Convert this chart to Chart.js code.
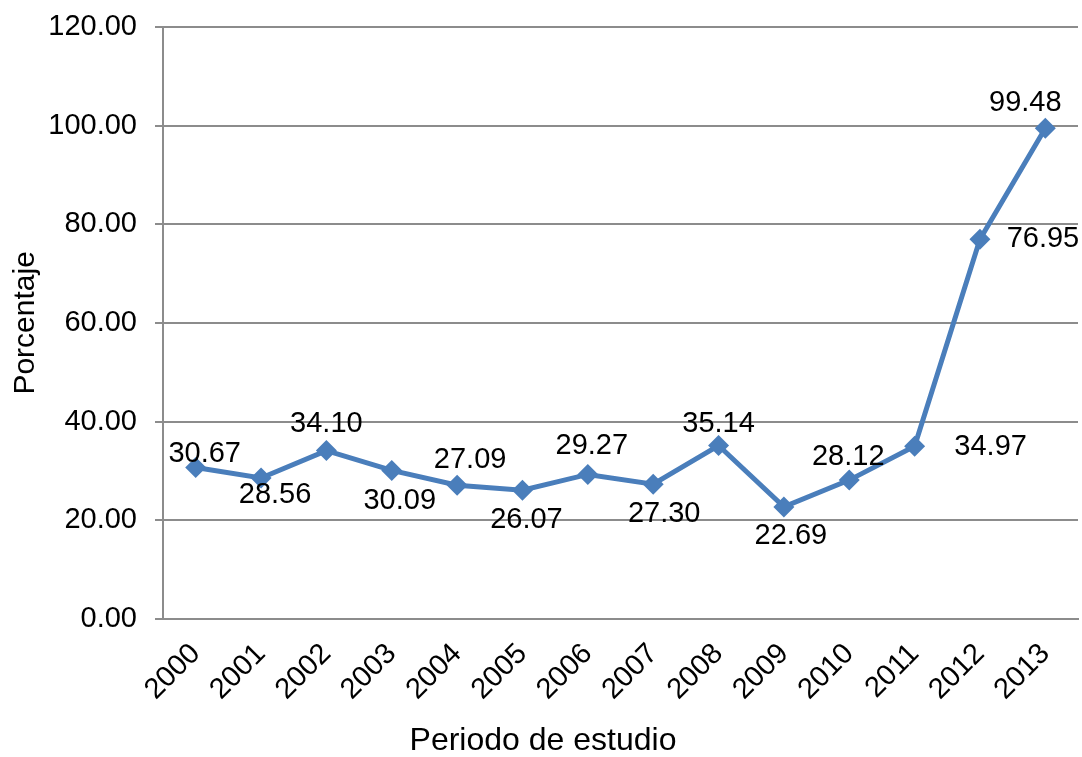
<!DOCTYPE html>
<html>
<head>
<meta charset="utf-8">
<title>Porcentaje por año</title>
<script src="https://cdn.jsdelivr.net/npm/chart.js@4/dist/chart.umd.min.js"></script>
<style>
    html, body { margin: 0; padding: 0; background: #fff; }
    .chart-container { width: 1082px; height: 757px; }
</style>
</head>
<body>
<div class="chart-container"><canvas id="porcentajeChart"></canvas></div>
<script>
const years = ['2000', '2001', '2002', '2003', '2004', '2005', '2006', '2007', '2008', '2009', '2010', '2011', '2012', '2013'];
const porcentaje = [30.67, 28.56, 34.10, 30.09, 27.09, 26.07, 29.27, 27.30, 35.14, 22.69, 28.12, 34.97, 76.95, 99.48];
const yTicks = [0, 20, 40, 60, 80, 100, 120];

// where each value label sits relative to its marker (px)
const labelOffsets = [
    [9, -14], [14, 17], [0, -27], [8, 31], [13, -25], [4, 30], [4, -28],
    [11, 30], [0, -21], [7, 29], [-1, -23], [76, 1], [63, 0], [-20, -25]
];

const FONT = "'Liberation Sans', Arial, sans-serif";
const LINE_BLUE = '#4a7ebb';
const GRID_GREY = '#8c8c8c';

// writes the value next to every point
const valueLabels = {
    id: 'valueLabels',
    afterDatasetsDraw(chart) {
        const ctx = chart.ctx;
        const meta = chart.getDatasetMeta(0);
        ctx.save();
        ctx.font = '29px ' + FONT;
        ctx.fillStyle = '#000';
        ctx.textAlign = 'center';
        ctx.textBaseline = 'middle';
        meta.data.forEach((pt, i) => {
            const off = labelOffsets[i];
            ctx.fillText(porcentaje[i].toFixed(2), pt.x + off[0], pt.y + off[1]);
        });
        ctx.restore();
    }
};

const ctx = document.getElementById('porcentajeChart').getContext('2d');
new Chart(ctx, {
    type: 'line',
    data: {
        labels: years,
        datasets: [{
            label: 'Porcentaje',
            data: porcentaje,
            borderColor: LINE_BLUE,
            backgroundColor: LINE_BLUE,
            borderWidth: 5,
            pointStyle: 'rectRot',
            pointRadius: 10.5,
            pointBorderWidth: 0,
            pointBackgroundColor: LINE_BLUE,
            tension: 0,
            fill: false
        }]
    },
    options: {
        responsive: true,
        maintainAspectRatio: false,
        animation: false,
        layout: { autoPadding: false, padding: { top: 27, left: 8, right: 4, bottom: 0 } },
        plugins: {
            legend: { display: false },
            tooltip: { enabled: false },
            title: {
                display: true,
                position: 'bottom',
                text: 'Periodo de estudio',
                color: '#000',
                font: { family: FONT, size: 32, weight: 'normal', lineHeight: 1 },
                padding: { top: 0, bottom: 0 }
            }
        },
        scales: {
            x: {
                offset: true,
                afterFit: axis => { axis.paddingLeft = 0; axis.paddingRight = 0; },
                grid: { display: false, drawTicks: false },
                border: { display: true, color: GRID_GREY, width: 2 },
                ticks: {
                    color: '#000',
                    font: { family: FONT, size: 29 },
                    minRotation: 45,
                    maxRotation: 45,
                    padding: 18
                }
            },
            y: {
                min: 0,
                max: 120,
                afterBuildTicks: axis => { axis.ticks = yTicks.map(v => ({ value: v })); },
                afterFit: axis => {
                    axis.width = 155;
                    axis.paddingTop = 0;
                    axis.paddingBottom = 0;
                },
                grid: { color: GRID_GREY, lineWidth: 2, tickLength: 8 },
                border: { display: true, color: GRID_GREY, width: 2 },
                ticks: {
                    color: '#000',
                    font: { family: FONT, size: 29 },
                    padding: 18,
                    callback: v => Number(v).toFixed(2)
                },
                title: {
                    display: true,
                    text: 'Porcentaje',
                    color: '#000',
                    font: { family: FONT, size: 30 },
                    padding: { top: 0, bottom: 4 }
                }
            }
        }
    },
    plugins: [valueLabels]
});
</script>
</body>
</html>
